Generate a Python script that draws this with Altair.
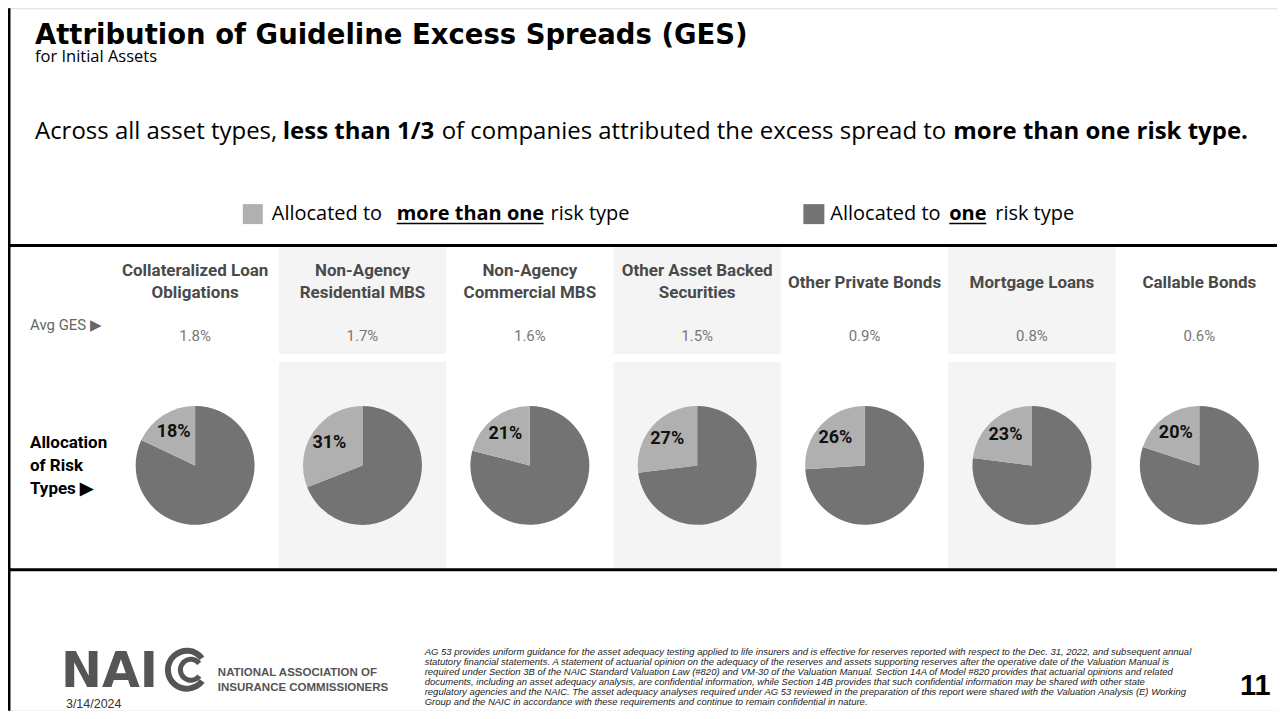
import math
import altair as alt
import pandas as pd

# ---------------- data ----------------
asset_labels = [
    "Collateralized Loan\nObligations",
    "Non-Agency\nResidential MBS",
    "Non-Agency\nCommercial MBS",
    "Other Asset Backed\nSecurities",
    "Other Private Bonds",
    "Mortgage Loans",
    "Callable Bonds",
]
avg_ges = [1.8, 1.7, 1.6, 1.5, 0.9, 0.8, 0.6]
pct_more_than_one = [18, 31, 21, 27, 26, 23, 20]

disclaimer_lines = [
    "AG 53 provides uniform guidance for the asset adequacy testing applied to life insurers and is effective for reserves reported with respect to the Dec. 31, 2022, and subsequent annual",
    "statutory financial statements. A statement of actuarial opinion on the adequacy of the reserves and assets supporting reserves after the operative date of the Valuation Manual is",
    "required under Section 3B of the NAIC Standard Valuation Law (#820) and VM-30 of the Valuation Manual. Section 14A of Model #820 provides that actuarial opinions and related",
    "documents, including an asset adequacy analysis, are confidential information, while Section 14B provides that such confidential information may be shared with other state",
    "regulatory agencies and the NAIC. The asset adequacy analyses required under AG 53 reviewed in the preparation of this report were shared with the Valuation Analysis (E) Working",
    "Group and the NAIC in accordance with these requirements and continue to remain confidential in nature.",
]

df = pd.DataFrame({
    "idx": list(range(len(asset_labels))),
    "label": asset_labels,
    "ges": avg_ges,
    "more": pct_more_than_one,
})

# ---------------- style ----------------
W, H = 1270, 703
SLIDE = "Open Sans"
TAB = "Roboto"
NARROW = "Liberation Sans Narrow, Roboto"
LIGHT = "#b0b0b0"
DARK = "#737373"
BG = "#f4f4f4"

def P(v):  # page pixel -> chart pixel
    return v - 8

ONE = alt.Data(values=[{"k": 1}])

def txt(s, x, y, size, weight="normal", color="#000", font=SLIDE, align="left",
        style="normal", baseline="alphabetic", **kw):
    return alt.Chart(ONE).mark_text(
        fontSize=size, fontWeight=weight, color=color, font=font, align=align,
        fontStyle=style, baseline=baseline, **kw
    ).encode(x=alt.value(P(x)), y=alt.value(P(y)), text=alt.value(s))

def hrule(y, x1, x2, w=3, color="#000"):
    return alt.Chart(ONE).mark_rule(strokeWidth=w, color=color).encode(
        x=alt.value(P(x1)), x2=alt.value(P(x2)), y=alt.value(P(y)))

def box(x1, x2, y1, y2, color):
    return alt.Chart(ONE).mark_rect(color=color).encode(
        x=alt.value(P(x1)), x2=alt.value(P(x2)), y=alt.value(P(y1)), y2=alt.value(P(y2)))

xscale = alt.Scale(domain=[0, 7], range=[P(111.5), P(1284)])

def XC(field="center:Q"):
    return alt.X(field, scale=xscale, axis=None, stack=None)

base = alt.Chart(df).transform_calculate(
    center="datum.idx + 0.5", idx_end="datum.idx + 1",
    # slice angles (radians, clockwise from 12 o'clock)
    a_split="2 * PI * (100 - datum.more) / 100",
    a_full="2 * PI",
    a_zero="0",
    a_mid="2 * PI * (100 - datum.more / 2) / 100",
)

# alternating column backgrounds
bg_top = base.transform_filter("datum.idx % 2 == 1").mark_rect(color=BG).encode(
    x=XC("idx:Q"), x2="idx_end:Q",
    y=alt.value(P(247)), y2=alt.value(P(354)))
bg_bot = base.transform_filter("datum.idx % 2 == 1").mark_rect(color=BG).encode(
    x=XC("idx:Q"), x2="idx_end:Q",
    y=alt.value(P(362)), y2=alt.value(P(568)))

headers = base.transform_calculate(
    nlines="indexof(datum.label, '\\n') >= 0 ? 2 : 1"
).mark_text(font=TAB, fontSize=17, fontWeight="bold", color="#4a4a4a",
            lineBreak="\n", lineHeight=22).encode(
    x=XC(),
    y=alt.Y("nlines:Q", scale=alt.Scale(domain=[1, 2], range=[P(283), P(271)]), axis=None),
    text="label:N")

ges_txt = base.transform_calculate(t="format(datum.ges, '.1f') + '%'").mark_text(
    font=TAB, fontSize=15, color="#777777").encode(
    x=XC(), y=alt.value(P(336)), text="t:N")

# "one risk type" slice (dark) and "more than one" slice (light)
pie_one = base.mark_arc(radius=59.5, color=DARK).encode(
    x=XC(),
    y=alt.value(P(465.5)),
    theta=alt.Theta("a_zero:Q", scale=None, stack=None),
    theta2="a_split:Q",
)
pie_more = base.mark_arc(radius=59.5, color=LIGHT).encode(
    x=XC(),
    y=alt.value(P(465.5)),
    theta=alt.Theta("a_split:Q", scale=None, stack=None),
    theta2="a_full:Q",
)
pie_labels = base.transform_calculate(t="datum.more + '%'").mark_text(
    font=NARROW, fontSize=18, fontWeight="bold", color="#111").encode(
    x=XC(),
    y=alt.value(P(465.5)),
    theta=alt.Theta("a_mid:Q", scale=None, stack=None),
    radius=alt.value(40),
    text="t:N",
)

layers = [
    # frame and separators
    alt.Chart(ONE).mark_rule(strokeWidth=3, color="#000").encode(
        x=alt.value(1), y=alt.value(0), y2=alt.value(H)),
    bg_top, bg_bot,
    hrule(245.5, 8, 1285),
    hrule(570, 8, 1285),
    # title block
    txt("Attribution of Guideline Excess Spreads (GES)", 35, 44, 27.5, weight="bold",
        font="DejaVu Sans"),
    txt("for Initial Assets", 35, 62, 16.5),
    txt("Across all asset types,", 35, 139, 24),
    txt("less than 1/3", 283, 139, 24, weight="bold"),
    txt("of companies attributed the excess spread to", 442, 139, 24),
    txt("more than one risk type.", 954, 139, 24, weight="bold"),
    # legend
    box(243, 263, 204, 224, LIGHT),
    txt("Allocated to", 272, 220, 20),
    txt("more than one", 397, 220, 20, weight="bold"),
    hrule(223.5, 397, 544, w=1.5),
    txt("risk type", 551, 220, 20),
    box(804, 825, 204, 224, DARK),
    txt("Allocated to", 831, 220, 20),
    txt("one", 950, 220, 20, weight="bold"),
    hrule(223.5, 950, 987, w=1.5),
    txt("risk type", 996, 220, 20),
    # row labels
    txt("Avg GES \u25B6", 30, 330, 15, color="#666666", font=TAB),
    txt("Allocation\nof Risk\nTypes  \u25B6", 30, 448, 17, weight="bold", font=NARROW,
        lineBreak="\n", lineHeight=23),
    headers, ges_txt, pie_one, pie_more, pie_labels,
    # footer
    txt("NAI", 61, 687.5, 49, weight="bold", color="#555555", font="DejaVu Sans"),
    alt.Chart(ONE).mark_arc(radius=22, radius2=16, theta=2.2, theta2=7.2, color="#555555").encode(
        x=alt.value(P(187)), y=alt.value(P(670))),
    alt.Chart(ONE).mark_arc(radius=13, radius2=8, theta=2.2, theta2=7.2, color="#555555").encode(
        x=alt.value(P(191)), y=alt.value(P(670))),
    txt("NATIONAL ASSOCIATION OF", 218, 676, 11.5, weight="bold", color="#555555",
        font="Liberation Sans"),
    txt("INSURANCE COMMISSIONERS", 218, 691, 11.5, weight="bold", color="#555555",
        font="Liberation Sans"),
    txt("3/14/2024", 66, 708.5, 12.5, color="#333333", font="Liberation Sans"),
    txt("\n".join(disclaimer_lines), 425, 655, 9.5, style="italic", color="#222222",
        font="Liberation Sans", lineBreak="\n", lineHeight=10),
    txt("11", 1241, 695, 29, weight="bold", font="Liberation Sans"),
]

chart = alt.layer(*layers).properties(
    width=W, height=H, padding=0,
    autosize=alt.AutoSizeParams(type="none"),
).configure_view(stroke=None).configure(background="white")

chart.save("out.html", embed_options={"renderer": "svg", "actions": False})
